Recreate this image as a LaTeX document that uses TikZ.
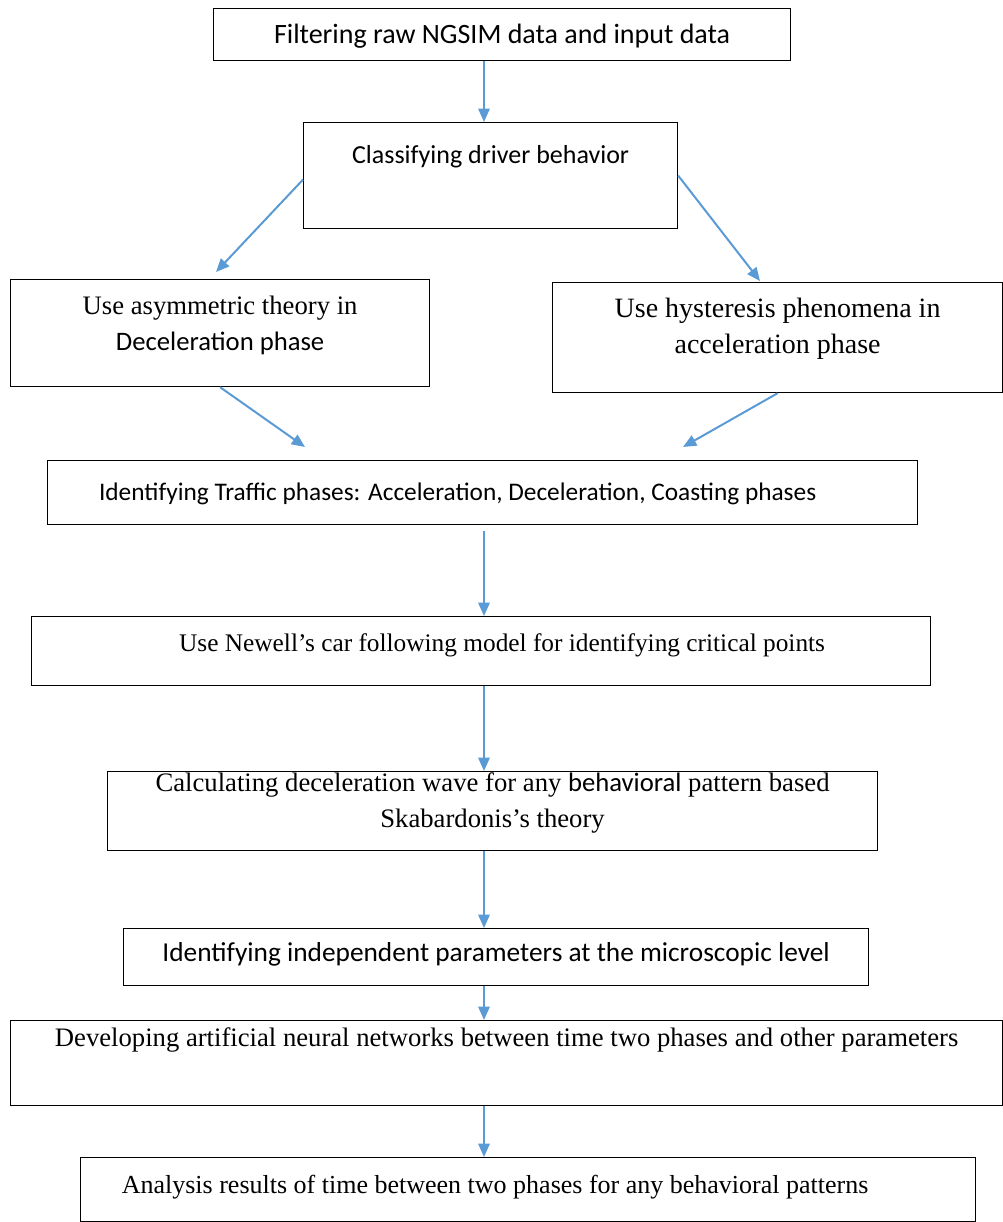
\documentclass[tikz,border=0pt]{standalone}
\usepackage{fontspec}
\setmainfont{Liberation Serif}
\newfontfamily\calibri{Carlito}
\usepackage{tikz}
\usetikzlibrary{arrows.meta}
\usetikzlibrary{positioning}

\definecolor{flowblue}{RGB}{91,155,213}

\tikzset{
  box/.style={rectangle,draw=black,line width=0.9pt,inner xsep=0pt,inner ysep=0pt,anchor=north west,align=center},
  cal/.style={font=\calibri\fontsize{#1}{27}\selectfont},
  tms/.style={font=\fontsize{#1}{27}\selectfont},
  flow/.style={draw=flowblue,line width=1.5pt,-{Triangle[length=10pt,width=8.5pt]}}
}

\begin{document}
\begin{tikzpicture}[x=0.75pt,y=-0.75pt]
\useasboundingbox (0,0) rectangle (1003,1222);
% boxes
\node at (213,8)[box,cal=21,minimum width=432.75pt,text height=26.25pt,text depth=12.75pt](filter){Filtering raw NGSIM data and input data};
\node at (303,122)[box,cal=19.5,minimum width=280.5pt,text height=30.75pt,text depth=48.75pt](classify){Classifying driver behavior};
\node at (10,279)[box,tms=20,minimum width=314.25pt,text height=53.25pt,text depth=27pt](asym){Use asymmetric theory in\\{\calibri Deceleration phase}};
\node at (552,282)[box,tms=21,minimum width=337.5pt,text height=53.25pt,text depth=29.25pt](hyst){Use hysteresis phenomena in\\acceleration phase};
\node at (47,460)[box,cal=19,minimum width=652.5pt,text height=30pt,text depth=18pt](traffic){Identifying Traffic phases: Acceleration, Deceleration, Coasting phases\kern37.5pt};
\node at (31,616)[box,tms=19,minimum width=674.25pt,text height=26.25pt,text depth=25.5pt](newell){\kern31.5pt Use Newell's car following model for identifying critical points};
\node at (107,771)[box,tms=20,minimum width=577.5pt,text height=42pt,text depth=17.25pt](wave){Calculating deceleration wave for any {\calibri behavioral} pattern based\\Skabardonis's theory};
\node at (123,928)[box,cal=20.5,minimum width=558.75pt,text height=24.75pt,text depth=18pt](indep){Identifying independent parameters at the microscopic level};
\node at (10,1020)[box,tms=20,minimum width=744pt,text height=19.5pt,text depth=44.25pt](ann){Developing artificial neural networks between time two phases and other parameters};
\node at (80,1157)[box,tms=19.5,minimum width=671.25pt,text height=27pt,text depth=21pt](result){Analysis results of time between two phases for any behavioral patterns\kern49.5pt};

% arrow ends
\coordinate (spine) at (484,0);
\coordinate (asymtip) at (216,272);
\coordinate (hysttip) at (760,281);
\coordinate (ltraffic) at (305,447);
\coordinate (rtraffic) at (683,447);

% arrows
\draw[flow] (filter.south -| spine) -- (classify.north -| spine);
\draw[flow] ([yshift=-3pt]classify.west) -- (asymtip);
\draw[flow] (classify.east) -- (hysttip);
\draw[flow] (asym.south) -- (ltraffic);
\draw[flow] (hyst.south) -- (rtraffic);
\draw[flow] ([yshift=-4.5pt]traffic.south -| spine) -- (newell.north -| spine);
\draw[flow] (newell.south -| spine) -- (wave.north -| spine);
\draw[flow] (wave.south -| spine) -- (indep.north -| spine);
\draw[flow] (indep.south -| spine) -- (ann.north -| spine);
\draw[flow] (ann.south -| spine) -- (result.north -| spine);
\end{tikzpicture}
\end{document}
